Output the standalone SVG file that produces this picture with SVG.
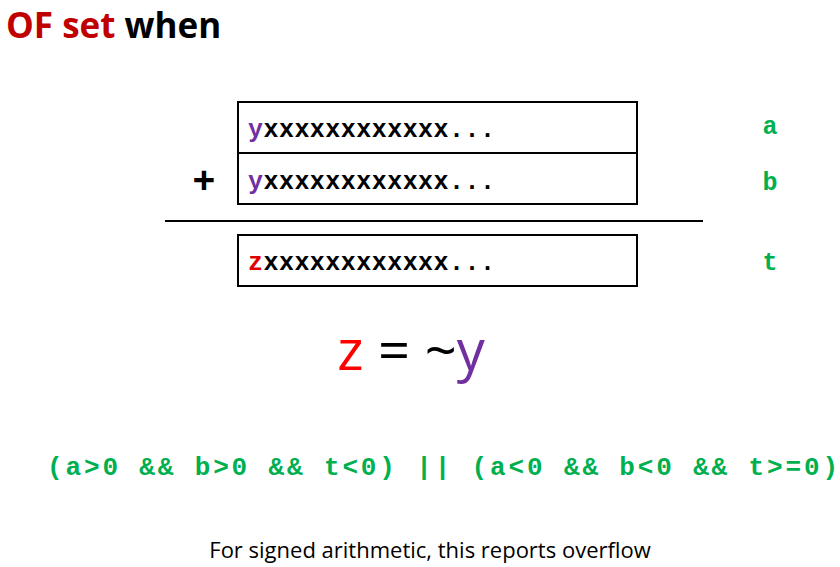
<svg xmlns="http://www.w3.org/2000/svg" width="840" height="567" viewBox="0 0 840 567">
<style>
.box{fill:#fff;stroke:#000;stroke-width:2}
.m{font-family:"Liberation Mono",monospace;font-weight:bold}
.g{fill:#00B050}
.s{font-family:"Open Sans","Liberation Sans",sans-serif}
</style>
<rect width="840" height="567" fill="#fff"/>
<text x="6" y="38" class="s" font-size="35" font-weight="bold"><tspan fill="#C00000">OF set</tspan> when</text>
<g id="a"><rect class="box" x="238" y="102" width="399" height="51"/>
<text class="m" x="248" y="137" font-size="25" textLength="247"><tspan fill="#7030A0">y</tspan>xxxxxxxxxxxx...</text></g>
<g id="b"><rect class="box" x="238" y="153" width="399" height="51"/>
<text class="m" x="248" y="189" font-size="25" textLength="247"><tspan fill="#7030A0">y</tspan>xxxxxxxxxxxx...</text></g>
<g id="t"><rect class="box" x="238" y="235" width="399" height="51"/>
<text class="m" x="248" y="270" font-size="25" textLength="247"><tspan fill="#E00000">z</tspan>xxxxxxxxxxxx...</text></g>
<text class="m g" x="770" y="134" font-size="25" text-anchor="middle">a</text>
<text class="m g" x="770" y="190" font-size="25" text-anchor="middle">b</text>
<text class="m g" x="770" y="270" font-size="25" text-anchor="middle">t</text>
<text class="s" x="204" y="194" font-size="40" text-anchor="middle" font-weight="bold">+</text>
<line x1="165" y1="221" x2="703" y2="221" stroke="#000" stroke-width="2"/>
<text class="s" x="411" y="370" font-size="56" text-anchor="middle"><tspan fill="#FF0000">z</tspan> = ~<tspan fill="#7030A0">y</tspan></text>
<text class="m g" x="47" y="475" font-size="26" textLength="791">(a&gt;0 &amp;&amp; b&gt;0 &amp;&amp; t&lt;0) || (a&lt;0 &amp;&amp; b&lt;0 &amp;&amp; t&gt;=0)</text>
<text class="s" x="430" y="558" font-size="22" text-anchor="middle">For signed arithmetic, this reports overflow</text>
</svg>
